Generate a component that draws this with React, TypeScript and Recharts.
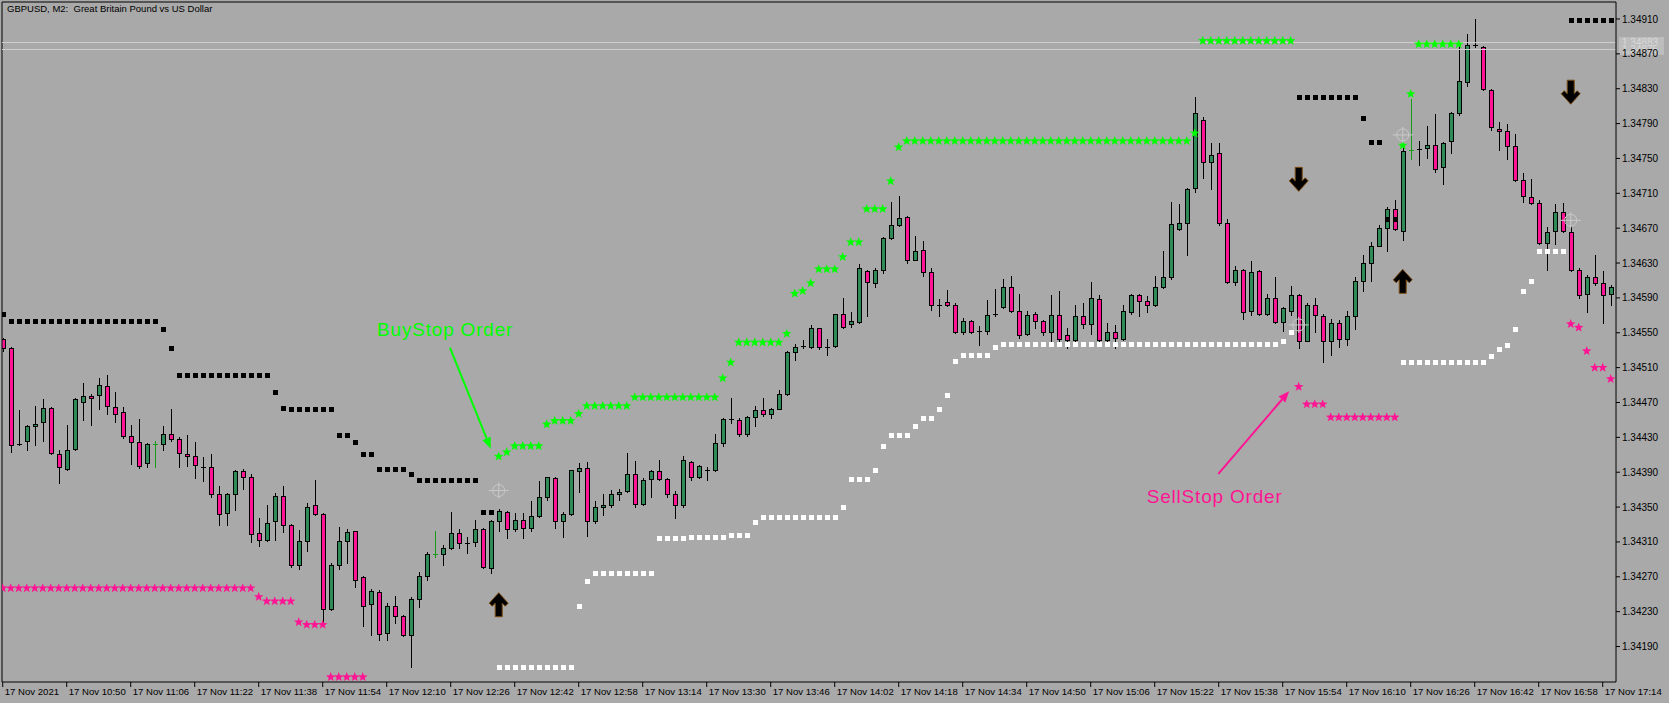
import React from "react";
import {
  ComposedChart,
  Bar,
  Scatter,
  XAxis,
  YAxis,
  ReferenceLine,
  ReferenceDot,
} from "recharts";

// ---- data (bar 0 = 17 Nov 10:34) ----

const TIME_TICKS = [0, 8, 16, 24, 32, 40, 48, 56, 64, 72, 80, 88, 96, 104, 112, 120, 128, 136, 144, 152, 160, 168, 176, 184, 192, 200];
const TIME_LABELS = [
  "17 Nov 2021", "17 Nov 10:50", "17 Nov 11:06", "17 Nov 11:22", "17 Nov 11:38", "17 Nov 11:54",
  "17 Nov 12:10", "17 Nov 12:26", "17 Nov 12:42", "17 Nov 12:58", "17 Nov 13:14", "17 Nov 13:30",
  "17 Nov 13:46", "17 Nov 14:02", "17 Nov 14:18", "17 Nov 14:34", "17 Nov 14:50", "17 Nov 15:06",
  "17 Nov 15:22", "17 Nov 15:38", "17 Nov 15:54", "17 Nov 16:10", "17 Nov 16:26", "17 Nov 16:42",
  "17 Nov 16:58", "17 Nov 17:14",
];

const PRICE_TICKS = [
  1.3419, 1.3423, 1.3427, 1.3431, 1.3435, 1.3439, 1.3443, 1.3447, 1.3451, 1.3455,
  1.3459, 1.3463, 1.3467, 1.3471, 1.3475, 1.3479, 1.3483, 1.3487, 1.3491,
];

const OPEN = [
  1.34543, 1.34533, 1.34422, 1.34426, 1.34443, 1.34448, 1.34464, 1.34411, 1.34394, 1.34417,
  1.34470, 1.34478, 1.34479, 1.34489, 1.34465, 1.34459, 1.34432, 1.34425, 1.34401, 1.34422,
  1.34422, 1.34434, 1.34428, 1.34411, 1.34409, 1.34396, 1.34396, 1.34365, 1.34343, 1.34365,
  1.34391, 1.34384, 1.34320, 1.34312, 1.34334, 1.34363, 1.34330, 1.34284, 1.34311, 1.34352,
  1.34342, 1.34233, 1.34284, 1.34311, 1.34322, 1.34270, 1.34239, 1.34253, 1.34206, 1.34237,
  1.34225, 1.34203, 1.34245, 1.34271, 1.34296, 1.34296, 1.34303, 1.34320, 1.34309, 1.34310,
  1.34325, 1.34280, 1.34334, 1.34344, 1.34325, 1.34335, 1.34326, 1.34340, 1.34361, 1.34383,
  1.34334, 1.34342, 1.34391, 1.34395, 1.34334, 1.34350, 1.34352, 1.34365, 1.34369, 1.34388,
  1.34353, 1.34382, 1.34391, 1.34382, 1.34365, 1.34352, 1.34402, 1.34385, 1.34393, 1.34392,
  1.34423, 1.34451, 1.34450, 1.34434, 1.34453, 1.34461, 1.34457, 1.34463, 1.34480, 1.34528,
  1.34535, 1.34534, 1.34555, 1.34534, 1.34535, 1.34571, 1.34560, 1.34562, 1.34621, 1.34607,
  1.34622, 1.34659, 1.34674, 1.34683, 1.34634, 1.34645, 1.34620, 1.34582, 1.34585, 1.34582,
  1.34551, 1.34564, 1.34552, 1.34552, 1.34572, 1.34579, 1.34602, 1.34575, 1.34549, 1.34571,
  1.34563, 1.34551, 1.34570, 1.34548, 1.34542, 1.34569, 1.34560, 1.34589, 1.34542, 1.34551,
  1.34543, 1.34574, 1.34593, 1.34587, 1.34582, 1.34602, 1.34614, 1.34669, 1.34676, 1.34716,
  1.34794, 1.34746, 1.34756, 1.34676, 1.34608, 1.34622, 1.34575, 1.34621, 1.34571, 1.34590,
  1.34562, 1.34575, 1.34593, 1.34541, 1.34582, 1.34569, 1.34541, 1.34561, 1.34543, 1.34569,
  1.34609, 1.34630, 1.34650, 1.34670, 1.34692, 1.34667, 1.34760, 1.34761, 1.34762, 1.34766,
  1.34740, 1.34770, 1.34802, 1.34838, 1.34880, 1.34878, 1.34829, 1.34784, 1.34781, 1.34764,
  1.34725, 1.34706, 1.34699, 1.34653, 1.34667, 1.34689, 1.34666, 1.34622, 1.34594, 1.34614,
  1.34607, 1.34594,
];

const HIGH = [
  1.34544, 1.34534, 1.34461, 1.34444, 1.34466, 1.34474, 1.34465, 1.34416, 1.34444, 1.34475,
  1.34492, 1.34480, 1.34498, 1.34502, 1.34482, 1.34465, 1.34444, 1.34451, 1.34423, 1.34426,
  1.34443, 1.34463, 1.34430, 1.34433, 1.34425, 1.34407, 1.34411, 1.34374, 1.34366, 1.34393,
  1.34394, 1.34388, 1.34337, 1.34352, 1.34366, 1.34374, 1.34331, 1.34324, 1.34355, 1.34381,
  1.34343, 1.34286, 1.34327, 1.34325, 1.34323, 1.34271, 1.34256, 1.34255, 1.34240, 1.34248,
  1.34226, 1.34247, 1.34276, 1.34298, 1.34322, 1.34307, 1.34344, 1.34325, 1.34316, 1.34335,
  1.34326, 1.34335, 1.34348, 1.34345, 1.34343, 1.34343, 1.34357, 1.34380, 1.34385, 1.34384,
  1.34344, 1.34393, 1.34401, 1.34402, 1.34357, 1.34365, 1.34370, 1.34371, 1.34412, 1.34403,
  1.34383, 1.34393, 1.34404, 1.34383, 1.34368, 1.34409, 1.34403, 1.34398, 1.34396, 1.34434,
  1.34452, 1.34475, 1.34452, 1.34455, 1.34466, 1.34475, 1.34464, 1.34484, 1.34529, 1.34537,
  1.34542, 1.34559, 1.34556, 1.34543, 1.34572, 1.34590, 1.34574, 1.34629, 1.34622, 1.34624,
  1.34660, 1.34700, 1.34707, 1.34684, 1.34661, 1.34655, 1.34624, 1.34589, 1.34599, 1.34584,
  1.34567, 1.34565, 1.34558, 1.34588, 1.34600, 1.34612, 1.34615, 1.34594, 1.34575, 1.34574,
  1.34565, 1.34593, 1.34598, 1.34556, 1.34582, 1.34584, 1.34608, 1.34593, 1.34561, 1.34559,
  1.34582, 1.34595, 1.34595, 1.34592, 1.34615, 1.34644, 1.34700, 1.34698, 1.34716, 1.34821,
  1.34797, 1.34768, 1.34768, 1.34680, 1.34627, 1.34623, 1.34632, 1.34622, 1.34595, 1.34614,
  1.34580, 1.34604, 1.34594, 1.34584, 1.34590, 1.34572, 1.34566, 1.34565, 1.34575, 1.34614,
  1.34639, 1.34654, 1.34674, 1.34694, 1.34702, 1.34767, 1.34818, 1.34770, 1.34787, 1.34801,
  1.34769, 1.34803, 1.34880, 1.34893, 1.34910, 1.34879, 1.34830, 1.34792, 1.34789, 1.34778,
  1.34733, 1.34726, 1.34702, 1.34671, 1.34698, 1.34699, 1.34672, 1.34624, 1.34616, 1.34639,
  1.34621, 1.34605,
];

const LOW = [
  1.34529, 1.34413, 1.34421, 1.34416, 1.34421, 1.34426, 1.34411, 1.34378, 1.34392, 1.34416,
  1.34450, 1.34444, 1.34462, 1.34457, 1.34448, 1.34429, 1.34399, 1.34395, 1.34396, 1.34396,
  1.34416, 1.34426, 1.34396, 1.34397, 1.34383, 1.34380, 1.34361, 1.34330, 1.34330, 1.34347,
  1.34371, 1.34310, 1.34305, 1.34311, 1.34312, 1.34321, 1.34281, 1.34279, 1.34300, 1.34341,
  1.34218, 1.34232, 1.34279, 1.34286, 1.34258, 1.34214, 1.34203, 1.34198, 1.34198, 1.34217,
  1.34202, 1.34167, 1.34235, 1.34266, 1.34293, 1.34283, 1.34302, 1.34303, 1.34297, 1.34305,
  1.34280, 1.34274, 1.34322, 1.34315, 1.34323, 1.34314, 1.34322, 1.34339, 1.34358, 1.34326,
  1.34316, 1.34341, 1.34367, 1.34317, 1.34332, 1.34341, 1.34350, 1.34358, 1.34367, 1.34350,
  1.34352, 1.34362, 1.34381, 1.34362, 1.34338, 1.34350, 1.34381, 1.34383, 1.34381, 1.34391,
  1.34420, 1.34447, 1.34431, 1.34432, 1.34443, 1.34455, 1.34452, 1.34462, 1.34479, 1.34519,
  1.34533, 1.34533, 1.34531, 1.34524, 1.34534, 1.34556, 1.34557, 1.34561, 1.34569, 1.34603,
  1.34619, 1.34658, 1.34673, 1.34630, 1.34633, 1.34615, 1.34576, 1.34569, 1.34581, 1.34550,
  1.34549, 1.34550, 1.34536, 1.34549, 1.34569, 1.34578, 1.34574, 1.34544, 1.34548, 1.34555,
  1.34547, 1.34541, 1.34541, 1.34532, 1.34541, 1.34556, 1.34549, 1.34541, 1.34541, 1.34532,
  1.34542, 1.34572, 1.34569, 1.34574, 1.34581, 1.34601, 1.34612, 1.34668, 1.34639, 1.34712,
  1.34728, 1.34715, 1.34674, 1.34607, 1.34605, 1.34566, 1.34570, 1.34570, 1.34570, 1.34561,
  1.34552, 1.34570, 1.34532, 1.34540, 1.34551, 1.34517, 1.34524, 1.34534, 1.34536, 1.34554,
  1.34598, 1.34609, 1.34649, 1.34644, 1.34668, 1.34656, 1.34749, 1.34742, 1.34751, 1.34734,
  1.34721, 1.34756, 1.34800, 1.34833, 1.34878, 1.34828, 1.34783, 1.34760, 1.34749, 1.34724,
  1.34700, 1.34698, 1.34652, 1.34622, 1.34652, 1.34666, 1.34621, 1.34590, 1.34574, 1.34605,
  1.34561, 1.34582,
];

const CLOSE = [
  1.34532, 1.34421, 1.34422, 1.34443, 1.34445, 1.34464, 1.34412, 1.34396, 1.34416, 1.34474,
  1.34478, 1.34475, 1.34490, 1.34466, 1.34457, 1.34432, 1.34425, 1.34397, 1.34422, 1.34422,
  1.34434, 1.34428, 1.34412, 1.34409, 1.34398, 1.34396, 1.34365, 1.34342, 1.34365, 1.34391,
  1.34384, 1.34319, 1.34312, 1.34332, 1.34363, 1.34330, 1.34283, 1.34311, 1.34350, 1.34342,
  1.34233, 1.34284, 1.34311, 1.34321, 1.34266, 1.34237, 1.34254, 1.34204, 1.34237, 1.34225,
  1.34203, 1.34244, 1.34271, 1.34296, 1.34296, 1.34303, 1.34320, 1.34309, 1.34309, 1.34325,
  1.34281, 1.34334, 1.34346, 1.34325, 1.34335, 1.34326, 1.34340, 1.34362, 1.34384, 1.34334,
  1.34342, 1.34392, 1.34395, 1.34334, 1.34350, 1.34352, 1.34365, 1.34367, 1.34388, 1.34353,
  1.34381, 1.34391, 1.34382, 1.34365, 1.34352, 1.34404, 1.34385, 1.34397, 1.34393, 1.34423,
  1.34451, 1.34451, 1.34434, 1.34453, 1.34461, 1.34457, 1.34462, 1.34480, 1.34528, 1.34534,
  1.34535, 1.34555, 1.34534, 1.34534, 1.34571, 1.34557, 1.34563, 1.34624, 1.34608, 1.34622,
  1.34659, 1.34674, 1.34682, 1.34634, 1.34644, 1.34620, 1.34582, 1.34582, 1.34582, 1.34551,
  1.34564, 1.34551, 1.34552, 1.34570, 1.34572, 1.34602, 1.34575, 1.34548, 1.34570, 1.34563,
  1.34551, 1.34570, 1.34543, 1.34542, 1.34569, 1.34560, 1.34590, 1.34542, 1.34551, 1.34544,
  1.34575, 1.34593, 1.34587, 1.34582, 1.34602, 1.34614, 1.34675, 1.34676, 1.34715, 1.34802,
  1.34746, 1.34754, 1.34676, 1.34608, 1.34622, 1.34574, 1.34620, 1.34571, 1.34590, 1.34562,
  1.34578, 1.34593, 1.34541, 1.34582, 1.34570, 1.34541, 1.34561, 1.34543, 1.34569, 1.34609,
  1.34630, 1.34650, 1.34670, 1.34692, 1.34669, 1.34758, 1.34760, 1.34761, 1.34766, 1.34738,
  1.34768, 1.34802, 1.34839, 1.34880, 1.34880, 1.34830, 1.34786, 1.34781, 1.34764, 1.34725,
  1.34707, 1.34699, 1.34653, 1.34666, 1.34689, 1.34667, 1.34622, 1.34593, 1.34614, 1.34607,
  1.34593, 1.34602,
];

// bars drawn as thin green crosses in the terminal
const GREEN_CROSS_BARS = [19, 54, 176];

// indicator levels as runs: [first bar, last bar, price]
const UPPER_DOTS = [
  [0, 0, 1.34571], [1, 19, 1.34563], [20, 20, 1.34554], [21, 21, 1.34533], [22, 33, 1.34501],
  [34, 34, 1.34482], [35, 35, 1.34464], [36, 41, 1.34462], [42, 43, 1.34433], [44, 44, 1.34425],
  [45, 46, 1.34411], [47, 50, 1.34394], [51, 51, 1.34388], [52, 59, 1.34381], [60, 61, 1.34344],
  [162, 169, 1.34821], [170, 170, 1.34796], [171, 172, 1.34769], [173, 174, 1.34681], [196, 201, 1.34909],
];
const LOWER_DOTS = [
  [62, 71, 1.34167], [72, 72, 1.34236], [73, 73, 1.34265], [74, 81, 1.34274], [82, 85, 1.34314],
  [86, 90, 1.34316], [91, 93, 1.34318], [94, 94, 1.34333], [95, 104, 1.34339], [105, 105, 1.3435],
  [106, 108, 1.34382], [109, 109, 1.34393], [110, 110, 1.3442], [111, 113, 1.34433], [114, 114, 1.34443],
  [115, 116, 1.34452], [117, 117, 1.34462], [118, 118, 1.34479], [119, 119, 1.34518], [120, 123, 1.34524],
  [124, 124, 1.34534], [125, 159, 1.34537], [160, 160, 1.34541], [161, 161, 1.34551], [175, 185, 1.34517],
  [186, 186, 1.34523], [187, 187, 1.34531], [188, 188, 1.34536], [189, 189, 1.34554], [190, 190, 1.34598],
  [191, 191, 1.34609], [192, 195, 1.34644],
];
const BUY_STOPS = [
  [62, 62, 1.34408], [63, 63, 1.34413], [64, 67, 1.3442], [68, 68, 1.34445], [69, 71, 1.34449],
  [72, 72, 1.34457], [73, 78, 1.34466], [79, 89, 1.34476], [90, 90, 1.34498], [91, 91, 1.34516],
  [92, 97, 1.34539], [98, 98, 1.34549], [99, 99, 1.34595], [100, 100, 1.34598], [101, 101, 1.34607],
  [102, 104, 1.34623], [105, 105, 1.34637], [106, 107, 1.34654], [108, 110, 1.34692], [111, 111, 1.34724],
  [112, 112, 1.34763], [113, 148, 1.3477], [149, 149, 1.34779], [150, 161, 1.34885], [175, 175, 1.34765],
  [176, 176, 1.34824], [177, 182, 1.34881],
];
const SELL_STOPS = [
  [0, 31, 1.34257], [32, 32, 1.34247], [33, 36, 1.34242], [37, 37, 1.34218], [38, 40, 1.34215],
  [41, 45, 1.34155], [162, 162, 1.34488], [163, 165, 1.34468], [166, 174, 1.34453], [196, 196, 1.3456],
  [197, 197, 1.34556], [198, 198, 1.34529], [199, 200, 1.3451], [201, 201, 1.34497],
];
const UP_SIGNALS = [[62, 1.34238], [175, 1.34609]];
const DOWN_SIGNALS = [[162, 1.34726], [196, 1.34826]];
const TARGETS = [[62, 1.34369], [162, 1.34559], [175, 1.34777], [196, 1.34679]];

const BID = 1.34883;
const ASK = 1.34875;

// callouts: text anchor (bar, price) and arrow from -> to
const BUY_NOTE = { text: "BuyStop Order", bar: 46.8, price: 1.34546, from: [55.9, 1.34533], to: [61.0, 1.34417] };
const SELL_NOTE = { text: "SellStop Order", bar: 143.0, price: 1.34355, from: [151.95, 1.34388], to: [160.8, 1.34483] };

// ---- styling ----
const BG = "#a9a9a9";
const BULL = "#2e8b57";
const BEAR = "#ff1493";
const LIME = "#00ff00";
const FONT = "'Liberation Sans', Arial, sans-serif";
const X_DOMAIN: [number, number] = [-0.09, 201.66];
const Y_DOMAIN: [number, number] = [1.341493, 1.349295];

const candles = OPEN.map((o, i) => ({ i, o, h: HIGH[i], l: LOW[i], c: CLOSE[i] }));

const expand = (runs: number[][]) =>
  runs.flatMap(([a, b, v]) => Array.from({ length: b - a + 1 }, (_, k) => ({ i: a + k, v })));

const points = (list: number[][]) => list.map(([i, v]) => ({ i, v }));

function Candle(props: any) {
  const { x, y, width, height, payload } = props;
  if (x == null || y == null || !payload) return null;
  const { o, h, l, c, i } = payload;
  const span = h - l;
  const toY = (v: number) => (span > 0 ? y + ((h - v) / span) * height : y);
  const cx = Math.round(x + width / 2) + 0.5;
  const cross = GREEN_CROSS_BARS.includes(i);
  const ink = cross ? "#1a9a1a" : "#000";
  const top = Math.round(toY(Math.max(o, c)));
  const bot = Math.round(toY(Math.min(o, c)));
  return (
    <g>
      <line x1={cx} x2={cx} y1={Math.round(y)} y2={Math.round(y + height) + 1} stroke={ink} strokeWidth={1} />
      {o === c ? (
        <line x1={cx - 2.5} x2={cx + 2.5} y1={top + 0.5} y2={top + 0.5} stroke={ink} strokeWidth={1} />
      ) : (
        <rect
          x={cx - 2}
          y={top + 0.5}
          width={4}
          height={Math.max(1, bot - top)}
          fill={c > o ? BULL : BEAR}
          stroke="#000"
          strokeWidth={1}
        />
      )}
    </g>
  );
}

const starPath = (cx: number, cy: number, R = 5, r = 2.1) => {
  const pts: string[] = [];
  for (let k = 0; k < 10; k++) {
    const a = -Math.PI / 2 + (k * Math.PI) / 5;
    const rad = k % 2 === 0 ? R : r;
    pts.push(`${(cx + rad * Math.cos(a)).toFixed(2)},${(cy + rad * Math.sin(a)).toFixed(2)}`);
  }
  return pts.join(" ");
};

const Star = (color: string) => (p: any) =>
  p.cx == null ? null : <polygon points={starPath(p.cx, p.cy)} fill={color} />;

const Square = (color: string) => (p: any) =>
  p.cx == null ? null : (
    <rect x={Math.round(p.cx) - 2} y={Math.round(p.cy) - 2} width={5} height={5} fill={color} />
  );

const ARROW = [[0, -12], [9.5, -1.5], [6.5, 1.5], [3.5, -1.5], [3.5, 12], [-3.5, 12], [-3.5, -1.5], [-6.5, 1.5], [-9.5, -1.5]];
const Arrow = (dir: 1 | -1) => (p: any) =>
  p.cx == null ? null : (
    <polygon
      points={ARROW.map(([ax, ay]) => `${p.cx + ax},${p.cy + ay * dir}`).join(" ")}
      fill="#000"
      stroke="#7a4c12"
      strokeWidth={1}
    />
  );

const Target = (p: any) =>
  p.cx == null ? null : (
    <g stroke="#c9c9c9" strokeWidth={1} fill="none">
      <circle cx={p.cx} cy={p.cy} r={6} />
      <line x1={p.cx - 10} x2={p.cx + 10} y1={p.cy} y2={p.cy} />
      <line x1={p.cx} x2={p.cx} y1={p.cy - 8} y2={p.cy + 8} />
    </g>
  );

const Callout = (color: string) => (p: any) => {
  const { x1, y1, x2, y2 } = p;
  if (x1 == null) return null;
  const len = Math.hypot(x2 - x1, y2 - y1);
  const ux = (x2 - x1) / len;
  const uy = (y2 - y1) / len;
  const bx = x2 - ux * 11;
  const by = y2 - uy * 11;
  return (
    <g>
      <line x1={x1} y1={y1} x2={bx} y2={by} stroke={color} strokeWidth={2} />
      <polygon
        points={`${x2},${y2} ${bx - uy * 4.5},${by + ux * 4.5} ${bx + uy * 4.5},${by - ux * 4.5}`}
        fill={color}
      />
    </g>
  );
};

const NoteText = (text: string, color: string) => (p: any) =>
  p.cx == null ? null : (
    <text x={p.cx} y={p.cy} fill={color} fontFamily={FONT} fontSize={19} letterSpacing={0.8}>
      {text}
    </text>
  );

// bid / ask line with its grey price tag on the price scale
const PriceLine = (label: string) => (p: any) => {
  const { x1, y1, x2, y2 } = p;
  if (x1 == null) return null;
  const right = Math.max(x1, x2);
  return (
    <g>
      <line x1={x1} y1={y1} x2={x2} y2={y2} stroke="#cfcfcf" strokeWidth={1} />
      <rect x={right + 3} y={y1 - 5.5} width={45} height={11} fill="#bdbdbd" />
      <text x={right + 6} y={y1 + 3.5} fill="#dadada" fontFamily={FONT} fontSize={10}>
        {label}
      </text>
    </g>
  );
};

const TimeTick = (p: any) => (
  <text x={p.x + 2} y={p.y + 6} fill="#000" fontFamily={FONT} fontSize={9.6} textAnchor="start">
    {TIME_LABELS[TIME_TICKS.indexOf(p.payload.value)]}
  </text>
);

export default function App() {
  return (
    <div style={{ position: "absolute", left: 0, top: 0, width: 1669, height: 703, background: BG }}>
      <ComposedChart width={1669} height={703} data={candles} margin={{ top: 2, right: 0, bottom: 0, left: 2 }}>
        <XAxis
          type="number"
          dataKey="i"
          domain={X_DOMAIN}
          allowDataOverflow
          ticks={TIME_TICKS}
          interval={0}
          height={21}
          tickSize={5}
          axisLine={{ stroke: "#000" }}
          tickLine={{ stroke: "#000" }}
          tick={<TimeTick />}
        />
        <YAxis
          type="number"
          orientation="right"
          domain={Y_DOMAIN}
          allowDataOverflow
          ticks={PRICE_TICKS}
          interval={0}
          width={53}
          tickSize={4}
          axisLine={{ stroke: "#000" }}
          tickLine={{ stroke: "#000" }}
          tickFormatter={(v: number) => v.toFixed(5)}
          tick={{ fill: "#000", fontSize: 10, fontFamily: FONT }}
        />
        <ReferenceLine x={X_DOMAIN[0]} stroke="#000" />
        <ReferenceLine y={Y_DOMAIN[1]} stroke="#000" />
        <ReferenceLine y={BID} shape={PriceLine(BID.toFixed(5))} />
        <ReferenceLine y={ASK} shape={PriceLine(ASK.toFixed(5))} />
        <Bar dataKey={(d: any) => [d.l, d.h]} barSize={6} shape={<Candle />} isAnimationActive={false} />
        <Scatter data={expand(LOWER_DOTS)} dataKey="v" shape={Square("#ffffff")} isAnimationActive={false} />
        <Scatter data={expand(UPPER_DOTS)} dataKey="v" shape={Square("#000000")} isAnimationActive={false} />
        <Scatter data={expand(BUY_STOPS)} dataKey="v" shape={Star(LIME)} isAnimationActive={false} />
        <Scatter data={expand(SELL_STOPS)} dataKey="v" shape={Star(BEAR)} isAnimationActive={false} />
        <Scatter data={points(TARGETS)} dataKey="v" shape={Target} isAnimationActive={false} />
        <Scatter data={points(UP_SIGNALS)} dataKey="v" shape={Arrow(1)} isAnimationActive={false} />
        <Scatter data={points(DOWN_SIGNALS)} dataKey="v" shape={Arrow(-1)} isAnimationActive={false} />
        <ReferenceLine
          segment={[{ x: BUY_NOTE.from[0], y: BUY_NOTE.from[1] }, { x: BUY_NOTE.to[0], y: BUY_NOTE.to[1] }]}
          shape={Callout(LIME)}
        />
        <ReferenceLine
          segment={[{ x: SELL_NOTE.from[0], y: SELL_NOTE.from[1] }, { x: SELL_NOTE.to[0], y: SELL_NOTE.to[1] }]}
          shape={Callout(BEAR)}
        />
        <ReferenceDot x={BUY_NOTE.bar} y={BUY_NOTE.price} shape={NoteText(BUY_NOTE.text, LIME)} />
        <ReferenceDot x={SELL_NOTE.bar} y={SELL_NOTE.price} shape={NoteText(SELL_NOTE.text, BEAR)} />
      </ComposedChart>
      <div
        style={{
          position: "absolute",
          left: 7,
          top: 3,
          fontFamily: FONT,
          fontSize: 9.5,
          lineHeight: "11px",
          color: "#000",
          whiteSpace: "pre",
        }}
      >
        {"GBPUSD, M2:  Great Britain Pound vs US Dollar"}
      </div>
    </div>
  );
}
